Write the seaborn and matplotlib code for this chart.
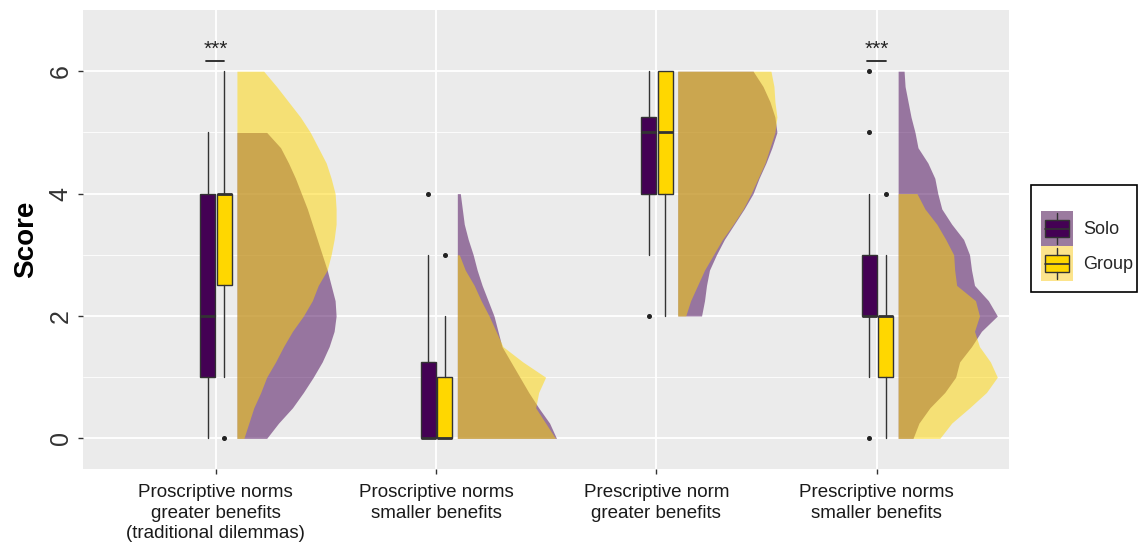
import numpy as np
import pandas as pd
import matplotlib
matplotlib.use("Agg")
import matplotlib.pyplot as plt
import seaborn as sns
from matplotlib.legend_handler import HandlerBase
from matplotlib.patches import Rectangle
from matplotlib.lines import Line2D

# ---------------------------------------------------------------- data
categories = [
    "Proscriptive norms\ngreater benefits\n(traditional dilemmas)",
    "Proscriptive norms\nsmaller benefits",
    "Prescriptive norm\ngreater benefits",
    "Prescriptive norms\nsmaller benefits",
]
groups = ["Solo", "Group"]

# box summaries per category: (lower whisker, Q1, median, Q3, upper whisker)
solo_box = [(0, 1, 2, 4, 5), (0, 0, 0, 1.25, 3), (3, 4, 5, 5.25, 6), (1, 2, 2, 3, 4)]
group_box = [(1, 2.5, 4, 4, 6), (0, 0, 0, 1, 2), (2, 4, 5, 6, 6), (0, 1, 2, 2, 3)]
solo_outliers = [[], [4], [2], [0, 5, 6]]
group_outliers = [[0], [3], [], [4]]

# half-violin profiles: relative width (1 = widest point), every 0.25 score points
score_step = 0.25
solo_dens_from = [0, 0, 2, 0]
solo_dens = [
    [0.30, 0.42, 0.56, 0.67, 0.77, 0.86, 0.93, 0.98, 1.00, 0.99, 0.95, 0.91, 0.86,
     0.81, 0.76, 0.71, 0.65, 0.59, 0.52, 0.44, 0.30],
    [1.00, 0.93, 0.82, 0.72, 0.63, 0.54, 0.45, 0.41, 0.37, 0.31, 0.25, 0.20, 0.16,
     0.11, 0.07, 0.05, 0.03],
    [0.24, 0.27, 0.29, 0.32, 0.39, 0.47, 0.57, 0.67, 0.76, 0.82, 0.89, 0.95, 1.00,
     0.98, 0.93, 0.86, 0.76],
    [0.15, 0.21, 0.32, 0.47, 0.58, 0.62, 0.74, 0.84, 1.00, 0.91, 0.77, 0.74, 0.72,
     0.66, 0.54, 0.44, 0.40, 0.37, 0.30, 0.20, 0.17, 0.13, 0.10, 0.07, 0.06],
]
group_dens_from = [0, 0, 2, 0]
group_dens = [
    [0.07, 0.12, 0.17, 0.24, 0.30, 0.39, 0.47, 0.56, 0.67, 0.76, 0.82, 0.91, 0.95,
     0.98, 1.00, 1.00, 0.99, 0.95, 0.90, 0.82, 0.74, 0.64, 0.52, 0.40, 0.27],
    [0.99, 0.89, 0.79, 0.82, 0.89, 0.66, 0.46, 0.39, 0.32, 0.24, 0.17, 0.08, 0.02],
    [0.08, 0.13, 0.20, 0.27, 0.36, 0.45, 0.56, 0.66, 0.74, 0.81, 0.88, 0.93, 0.98,
     1.00, 0.98, 0.97, 0.94],
    [0.42, 0.54, 0.72, 0.89, 1.00, 0.93, 0.82, 0.77, 0.82, 0.78, 0.59, 0.57, 0.56,
     0.48, 0.39, 0.27, 0.19],
]

significance = ["***", "", "", "***"]
y_ticks = [0, 2, 4, 6]

# ---------------------------------------------------------------- style
sns.set_theme(style="darkgrid")
plt.rcParams["font.family"] = ["Liberation Sans", "DejaVu Sans"]

colors = {"Solo": "#440154", "Group": "#FFD700"}
key_bg = {"Solo": "#9B7B9F", "Group": "#FCE48C"}
line_col = "#333333"

box_offset = {"Solo": -0.035, "Group": 0.040}
box_width = 0.068
violin_offset = 0.097
violin_width = 0.45

fig = plt.figure(figsize=(11.4, 5.43), dpi=100)
fig.patch.set_facecolor("white")
ax = fig.add_axes([83.3 / 1140, 74 / 543, 925.7 / 1140, 459 / 543])
ax.set_facecolor("#EBEBEB")
for s in ax.spines.values():
    s.set_visible(False)

positions = np.arange(1, len(categories) + 1)

# half violins (Solo underneath, Group on top)
for g, dens, start in [("Solo", solo_dens, solo_dens_from),
                       ("Group", group_dens, group_dens_from)]:
    for i, prof in enumerate(dens):
        prof = np.asarray(prof)
        y = start[i] + score_step * np.arange(len(prof))
        x0 = positions[i] + violin_offset
        ax.fill_betweenx(y, x0, x0 + violin_width * prof,
                         color=colors[g], alpha=0.5, lw=0, zorder=2)

# boxplots
for g, boxes, outs in [("Solo", solo_box, solo_outliers),
                       ("Group", group_box, group_outliers)]:
    stats = [dict(whislo=b[0], q1=b[1], med=b[2], q3=b[3], whishi=b[4],
                  fliers=o) for b, o in zip(boxes, outs)]
    ax.bxp(stats, positions=positions + box_offset[g], widths=box_width,
           patch_artist=True, showcaps=False, manage_ticks=False,
           boxprops=dict(facecolor=colors[g], edgecolor=line_col, lw=1.0),
           medianprops=dict(color=line_col, lw=2.0),
           whiskerprops=dict(color=line_col, lw=1.0),
           flierprops=dict(marker="o", ms=2.6, mfc="#222222", mec="#222222"),
           zorder=3)

# significance brackets
for i, lab in enumerate(significance):
    if not lab:
        continue
    p = positions[i]
    ax.plot([p + box_offset["Solo"] - 0.01, p + box_offset["Group"]], [6.16, 6.16],
            color="#222222", lw=1.3, zorder=4)
    ax.text(p, 6.27, lab, ha="center", va="baseline", fontsize=15,
            color="#222222", zorder=4)

# axes, grid and ticks
ax.set_xlim(0.4, 4.6)
ax.set_ylim(-0.5, 7.0)
ax.set_xticks(positions)
ax.set_xticklabels(categories, fontsize=13.5, color="#1a1a1a", linespacing=1.28)
ax.set_yticks(y_ticks)
ax.set_yticklabels([str(t) for t in y_ticks], fontsize=18, color="#333333",
                   rotation=90, va="center", ha="right")
ax.set_yticks([1, 3, 5], minor=True)
ax.grid(which="major", color="white", lw=1.3, zorder=0)
ax.grid(which="minor", axis="y", color="white", lw=0.6, zorder=0)
ax.set_axisbelow(True)
ax.tick_params(axis="both", which="major", bottom=True, left=True,
               length=3.3, width=1.0, color=line_col)
ax.tick_params(axis="x", pad=7.5)
ax.tick_params(axis="y", pad=4.3)
ax.tick_params(which="minor", length=0)
ax.set_ylabel("Score", fontsize=20, fontweight="bold", color="black")
ax.yaxis.set_label_coords(-0.048, 0.5)
ax.set_xlabel("")


# legend keys: filled box glyph over a translucent background
class BoxKey(HandlerBase):
    def __init__(self, face, bg):
        super().__init__()
        self.face = face
        self.bg = bg

    def create_artists(self, legend, orig_handle, xdescent, ydescent,
                       width, height, fontsize, trans):
        x0, y0 = -xdescent, -ydescent
        bg = Rectangle((x0, y0), width, height, facecolor=self.bg,
                       edgecolor="none", transform=trans)
        box = Rectangle((x0 + 0.12 * width, y0 + 0.25 * height),
                        0.76 * width, 0.5 * height, facecolor=self.face,
                        edgecolor=line_col, lw=1.0, transform=trans)
        med = Line2D([x0 + 0.12 * width, x0 + 0.88 * width],
                     [y0 + 0.5 * height] * 2, color=line_col, lw=1.2,
                     transform=trans)
        w1 = Line2D([x0 + 0.5 * width] * 2, [y0 + 0.06 * height, y0 + 0.25 * height],
                    color=line_col, lw=1.0, transform=trans)
        w2 = Line2D([x0 + 0.5 * width] * 2, [y0 + 0.75 * height, y0 + 0.94 * height],
                    color=line_col, lw=1.0, transform=trans)
        return [bg, box, med, w1, w2]


handles = [Rectangle((0, 0), 1, 1, label=g) for g in groups]
hmap = {h: BoxKey(colors[g], key_bg[g]) for h, g in zip(handles, groups)}
leg = fig.legend(handles=handles, labels=groups, handler_map=hmap,
                 loc="upper left", bbox_to_anchor=(0.904, 0.6485, 0.0935, 0.01),
                 mode="expand", fontsize=13, title=" ", title_fontsize=12,
                 frameon=True, fancybox=False, edgecolor="black",
                 facecolor="white", framealpha=1.0,
                 handlelength=1.75, handleheight=2.6, handletextpad=0.55,
                 labelspacing=0.0, borderpad=0.6, borderaxespad=0.0)
leg.get_frame().set_linewidth(1.2)
leg._legend_box.align = "left"

fig.savefig("out.png", dpi=100, facecolor="white")
